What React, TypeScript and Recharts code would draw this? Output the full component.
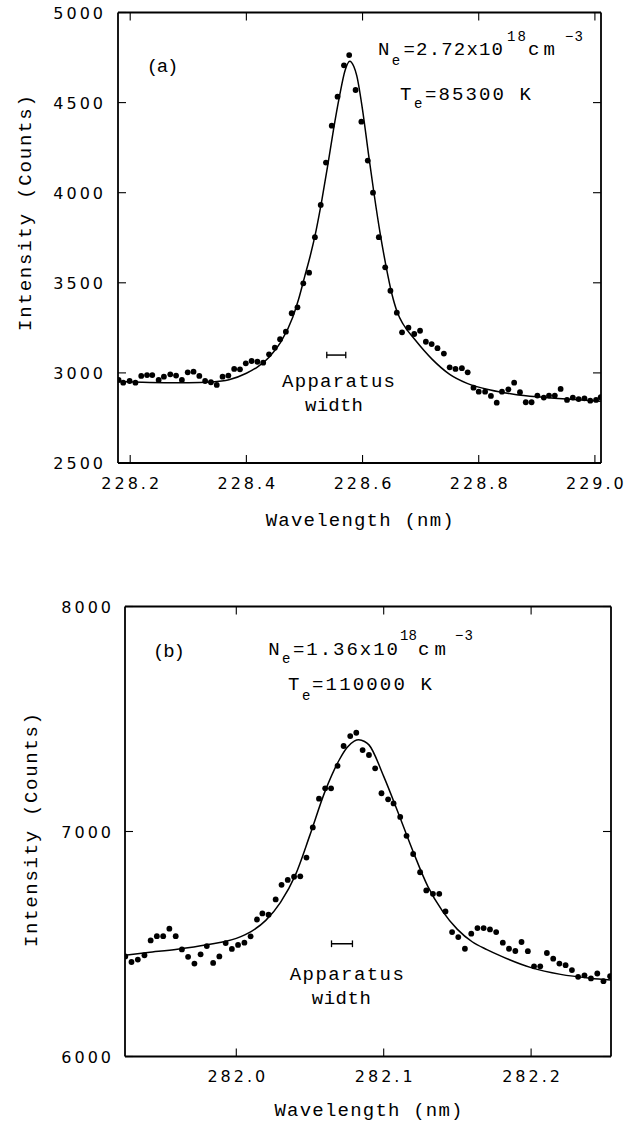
import React from 'react';
import { ComposedChart, XAxis, YAxis, Scatter, Line, ReferenceLine, Customized } from 'recharts';

// ---------- Panel (a) data ----------
const wavelengthA = [
  228.180, 228.188, 228.199, 228.209, 228.219, 228.229, 228.238, 228.249, 228.258, 228.269,
  228.279, 228.289, 228.299, 228.309, 228.319, 228.329, 228.339, 228.349, 228.359, 228.369,
  228.379, 228.389, 228.399, 228.409, 228.419, 228.429, 228.439, 228.449, 228.458, 228.468,
  228.478, 228.488, 228.498, 228.508, 228.518, 228.528, 228.537, 228.547, 228.557, 228.568,
  228.577, 228.588, 228.598, 228.609, 228.618, 228.628, 228.639, 228.648, 228.659, 228.668,
  228.679, 228.689, 228.699, 228.709, 228.719, 228.729, 228.740, 228.750, 228.760, 228.771,
  228.781, 228.791, 228.800, 228.811, 228.821, 228.831, 228.840, 228.851, 228.861, 228.871,
  228.881, 228.891, 228.901, 228.912, 228.921, 228.931, 228.941, 228.952, 228.962, 228.972,
  228.982, 228.992, 229.002, 229.010,
];
const intensityA = [
  2961, 2946, 2955, 2946, 2983, 2988, 2988, 2961, 2979, 2992,
  2985, 2961, 3003, 3007, 2983, 2955, 2948, 2933, 2979, 2985,
  3022, 3020, 3053, 3066, 3062, 3057, 3103, 3140, 3187, 3229,
  3331, 3364, 3497, 3556, 3753, 3932, 4167, 4372, 4533, 4707,
  4764, 4570, 4394, 4178, 4000, 3753, 3586, 3456, 3334, 3225,
  3251, 3216, 3234, 3173, 3160, 3137, 3107, 3031, 3022, 3026,
  3003, 2918, 2896, 2896, 2872, 2835, 2896, 2909, 2946, 2893,
  2837, 2837, 2874, 2863, 2874, 2874, 2911, 2850, 2863, 2855,
  2859, 2846, 2850, 2865,
];
const fitWavelengthA = [
  228.179, 228.22, 228.26, 228.30, 228.34, 228.37, 228.40, 228.42, 228.44, 228.46,
  228.48, 228.49, 228.50, 228.51, 228.52, 228.53, 228.54, 228.55, 228.56, 228.57,
  228.578, 228.585, 228.59, 228.60, 228.61, 228.62, 228.63, 228.64, 228.65, 228.66,
  228.67, 228.69, 228.72, 228.75, 228.78, 228.82, 228.86, 228.90, 228.95, 229.0105,
];
const fitIntensityA = [
  2952, 2948, 2946, 2946, 2950, 2962, 2998, 3035, 3090, 3175,
  3310, 3410, 3530, 3650, 3790, 3960, 4150, 4350, 4530, 4680,
  4730, 4700, 4650, 4460, 4220, 3990, 3780, 3600, 3445, 3335,
  3270, 3185, 3075, 2992, 2942, 2905, 2882, 2867, 2855, 2842,
];
const xTicksA = [228.2, 228.4, 228.6, 228.8, 229.0];
const yTicksA = [2500, 3000, 3500, 4000, 4500, 5000];
const xDomainA = [228.179, 229.0105];
const yDomainA = [2500, 5000];
const apparatusA = [228.5384, 228.5711];
const apparatusLevelA = 3099;

// ---------- Panel (b) data ----------
const wavelengthB = [
  281.9247, 281.9289, 281.9332, 281.9377, 281.9419, 281.9461, 281.9504, 281.9546, 281.9589, 281.9631,
  281.9673, 281.9716, 281.9758, 281.9800, 281.9843, 281.9885, 281.9928, 281.9970, 282.0012, 282.0055,
  282.0097, 282.0140, 282.0177, 282.0219, 282.0267, 282.0307, 282.0349, 282.0392, 282.0434, 282.0476,
  282.0519, 282.0561, 282.0603, 282.0643, 282.0687, 282.0728, 282.0773, 282.0814, 282.0857, 282.0900,
  282.0942, 282.0985, 282.1030, 282.1067, 282.1112, 282.1155, 282.1200, 282.1247, 282.1289, 282.1334,
  282.1377, 282.1419, 282.1464, 282.1506, 282.1551, 282.1594, 282.1636, 282.1678, 282.1721, 282.1763,
  282.1808, 282.1850, 282.1893, 282.1935, 282.1978, 282.2020, 282.2062, 282.2107, 282.2150, 282.2192,
  282.2234, 282.2277, 282.2319, 282.2362, 282.2406, 282.2449, 282.2491, 282.2536,
];
const intensityB = [
  6445, 6420, 6431, 6450, 6516, 6535, 6535, 6568, 6535, 6476,
  6443, 6413, 6454, 6491, 6416, 6445, 6504, 6478, 6496, 6506,
  6534, 6609, 6636, 6630, 6698, 6763, 6785, 6799, 6801, 6884,
  7018, 7146, 7192, 7192, 7292, 7380, 7424, 7439, 7362, 7340,
  7281, 7170, 7143, 7125, 7065, 6981, 6900, 6819, 6738, 6723,
  6723, 6645, 6553, 6531, 6479, 6546, 6571, 6571, 6565, 6553,
  6506, 6479, 6469, 6509, 6468, 6401, 6401, 6460, 6435, 6413,
  6406, 6384, 6354, 6361, 6347, 6369, 6335, 6357,
];
const fitWavelengthB = [
  281.9245, 281.94, 281.96, 281.98, 282.00, 282.01, 282.02, 282.03, 282.04, 282.05,
  282.06, 282.07, 282.075, 282.08, 282.083, 282.087, 282.09, 282.10, 282.11, 282.12,
  282.13, 282.14, 282.15, 282.16, 282.17, 282.18, 282.20, 282.22, 282.24, 282.2542,
];
const fitIntensityB = [
  6450, 6462, 6477, 6497, 6525, 6555, 6605, 6685, 6805, 6985,
  7175, 7320, 7372, 7402, 7408, 7400, 7385, 7245, 7080, 6910,
  6755, 6645, 6565, 6510, 6475, 6445, 6395, 6365, 6348, 6340,
];
const xTicksB = [282.0, 282.1, 282.2];
const yTicksB = [6000, 7000, 8000];
const xDomainB = [281.9245, 282.2542];
const yDomainB = [6000, 8000];
const apparatusB = [282.0646, 282.0788];
const apparatusLevelB = 6501;

// ---------- Styling helpers ----------
const MONO = '"Liberation Mono", "DejaVu Sans Mono", monospace';
const SANS = '"DejaVu Sans", "Liberation Sans", sans-serif';
const TICK = 8;

const zip = (xs: number[], ys: number[]) => xs.map((x, i) => ({ x, y: ys[i] }));

function BottomTick(props: any) {
  const { x, y, payload, off } = props;
  return (
    <g>
      <line x1={x} y1={y} x2={x} y2={y - TICK} stroke="#000" strokeWidth={1.1} />
      <text x={x + 1.5} y={y + off} textAnchor="middle" fill="#000" fontFamily={SANS} fontSize={16} letterSpacing={3}>
        {Number(payload.value).toFixed(1)}
      </text>
    </g>
  );
}
function LeftTick(props: any) {
  const { x, y, payload, off } = props;
  return (
    <g>
      <line x1={x} y1={y} x2={x + TICK} y2={y} stroke="#000" strokeWidth={1.1} />
      <text x={x - off} y={y + 6} textAnchor="end" fill="#000" fontFamily={SANS} fontSize={16} letterSpacing={3}>
        {String(payload.value)}
      </text>
    </g>
  );
}
function TopTick(props: any) {
  const { x, y } = props;
  return <line x1={x} y1={y} x2={x} y2={y + TICK} stroke="#000" strokeWidth={1.1} />;
}
function RightTick(props: any) {
  const { x, y } = props;
  return <line x1={x} y1={y} x2={x - TICK} y2={y} stroke="#000" strokeWidth={1.1} />;
}

type Ann = { x: number; y: number; s: string; size?: number; len?: number; rot?: boolean };

function Annotations({ items, dy }: { items: Ann[]; dy: number }) {
  return (
    <g>
      {items.map((a, i) => {
        const y = a.y - dy;
        return (
          <text
            key={i}
            x={a.x}
            y={y}
            fill="#000"
            fontFamily={MONO}
            fontSize={a.size ?? 19}
            textLength={a.len}
            lengthAdjust={a.len ? 'spacing' : undefined}
            textAnchor={a.rot ? 'middle' : 'start'}
            transform={a.rot ? `rotate(-90 ${a.x} ${y})` : undefined}
          >
            {a.s}
          </text>
        );
      })}
    </g>
  );
}

const annotationsA: Ann[] = [
  { x: 146.7, y: 72, s: '(a)', len: 31.6 },
  { x: 378, y: 55, s: 'N' },
  { x: 391.7, y: 65, s: 'e', size: 14 },
  { x: 403.5, y: 55, s: '=2.72x10', len: 99.5 },
  { x: 507, y: 41, s: '18', size: 14, len: 19 },
  { x: 528, y: 55, s: 'cm', len: 27 },
  { x: 565, y: 41, s: '\u22123', size: 14, len: 18 },
  { x: 400, y: 100, s: 'T' },
  { x: 414, y: 108, s: 'e', size: 14 },
  { x: 425, y: 100, s: '=85300 K', len: 106 },
  { x: 282, y: 387, s: 'Apparatus', len: 113 },
  { x: 305, y: 411, s: 'width', len: 58 },
  { x: 265.7, y: 526, s: 'Wavelength (nm)', len: 188 },
  { x: 31, y: 213, s: 'Intensity (Counts)', len: 236, rot: true },
];

const annotationsB: Ann[] = [
  { x: 153, y: 657, s: '(b)', len: 32 },
  { x: 268.3, y: 655, s: 'N' },
  { x: 282, y: 663, s: 'e', size: 14 },
  { x: 293, y: 655, s: '=1.36x10', len: 105 },
  { x: 400, y: 640, s: '18', size: 14, len: 17 },
  { x: 418, y: 655, s: 'cm', len: 28 },
  { x: 455, y: 640, s: '\u22123', size: 14, len: 18 },
  { x: 288, y: 690, s: 'T' },
  { x: 302, y: 700, s: 'e', size: 14 },
  { x: 312, y: 690, s: '=110000 K', len: 120 },
  { x: 289.8, y: 980, s: 'Apparatus', len: 114 },
  { x: 311.8, y: 1004, s: 'width', len: 59 },
  { x: 274.5, y: 1116, s: 'Wavelength (nm)', len: 188 },
  { x: 37, y: 830, s: 'Intensity (Counts)', len: 234, rot: true },
];

const dot = (p: any) => <circle cx={p.cx} cy={p.cy} r={2.9} fill="#000" />;

type PanelProps = {
  pts: { x: number; y: number }[];
  fit: { x: number; y: number }[];
  xTicks: number[];
  yTicks: number[];
  xDomain: number[];
  yDomain: number[];
  app: number[];
  appLevel: number;
  capHalf: number;
  height: number;
  margin: { top: number; right: number; bottom: number; left: number };
  xOff: number;
  yOff: number;
  ann: Ann[];
  dy: number;
};

function Panel(p: PanelProps) {
  const axisStroke = { stroke: '#000', strokeWidth: 1.8 };
  return (
    <ComposedChart width={636} height={p.height} margin={p.margin}>
      <XAxis
        xAxisId="b"
        type="number"
        dataKey="x"
        domain={p.xDomain}
        allowDataOverflow
        ticks={p.xTicks}
        interval={0}
        height={30}
        tickSize={0}
        tickMargin={0}
        tickLine={false}
        axisLine={axisStroke}
        tick={(t: any) => <BottomTick {...t} off={p.xOff} />}
      />
      <XAxis
        xAxisId="t"
        orientation="top"
        type="number"
        dataKey="x"
        domain={p.xDomain}
        allowDataOverflow
        ticks={p.xTicks}
        interval={0}
        height={10}
        tickSize={0}
        tickMargin={0}
        tickLine={false}
        axisLine={axisStroke}
        tick={(t: any) => <TopTick {...t} />}
      />
      <YAxis
        yAxisId="l"
        type="number"
        dataKey="y"
        domain={p.yDomain}
        allowDataOverflow
        ticks={p.yTicks}
        interval={0}
        width={60}
        tickSize={0}
        tickMargin={0}
        tickLine={false}
        axisLine={axisStroke}
        tick={(t: any) => <LeftTick {...t} off={p.yOff} />}
      />
      <YAxis
        yAxisId="r"
        orientation="right"
        type="number"
        dataKey="y"
        domain={p.yDomain}
        allowDataOverflow
        ticks={p.yTicks}
        interval={0}
        width={20}
        tickSize={0}
        tickMargin={0}
        tickLine={false}
        axisLine={axisStroke}
        tick={(t: any) => <RightTick {...t} />}
      />
      <Line
        xAxisId="b"
        yAxisId="l"
        data={p.fit}
        dataKey="y"
        type="monotone"
        dot={false}
        stroke="#000"
        strokeWidth={1.5}
        isAnimationActive={false}
      />
      <Scatter xAxisId="b" yAxisId="l" data={p.pts} dataKey="y" shape={dot} isAnimationActive={false} />
      <ReferenceLine
        xAxisId="b"
        yAxisId="l"
        segment={[{ x: p.app[0], y: p.appLevel }, { x: p.app[1], y: p.appLevel }]}
        stroke="#000"
        strokeWidth={1.5}
        ifOverflow="visible"
      />
      <ReferenceLine
        xAxisId="b"
        yAxisId="l"
        segment={[{ x: p.app[0], y: p.appLevel - p.capHalf }, { x: p.app[0], y: p.appLevel + p.capHalf }]}
        stroke="#000"
        strokeWidth={1.3}
        ifOverflow="visible"
      />
      <ReferenceLine
        xAxisId="b"
        yAxisId="l"
        segment={[{ x: p.app[1], y: p.appLevel - p.capHalf }, { x: p.app[1], y: p.appLevel + p.capHalf }]}
        stroke="#000"
        strokeWidth={1.3}
        ifOverflow="visible"
      />
      <Customized component={() => <Annotations items={p.ann} dy={p.dy} />} />
    </ComposedChart>
  );
}

export default function App() {
  return (
    <div style={{ position: 'absolute', left: 0, top: 0, width: 636, height: 1124, background: '#fff' }}>
      <div style={{ position: 'absolute', left: 0, top: 0 }}>
        <Panel
          pts={zip(wavelengthA, intensityA)}
          fit={zip(fitWavelengthA, fitIntensityA)}
          xTicks={xTicksA}
          yTicks={yTicksA}
          xDomain={xDomainA}
          yDomain={yDomainA}
          app={apparatusA}
          appLevel={apparatusLevelA}
          capHalf={18}
          height={560}
          margin={{ top: 2.5, right: 15, bottom: 67, left: 58 }}
          xOff={26}
          yOff={12}
          ann={annotationsA}
          dy={0}
        />
      </div>
      <div style={{ position: 'absolute', left: 0, top: 560 }}>
        <Panel
          pts={zip(wavelengthB, intensityB)}
          fit={zip(fitWavelengthB, fitIntensityB)}
          xTicks={xTicksB}
          yTicks={yTicksB}
          xDomain={xDomainB}
          yDomain={yDomainB}
          app={apparatusB}
          appLevel={apparatusLevelB}
          capHalf={15}
          height={564}
          margin={{ top: 36.5, right: 5, bottom: 37.5, left: 65 }}
          xOff={25.5}
          yOff={11}
          ann={annotationsB}
          dy={560}
        />
      </div>
    </div>
  );
}
